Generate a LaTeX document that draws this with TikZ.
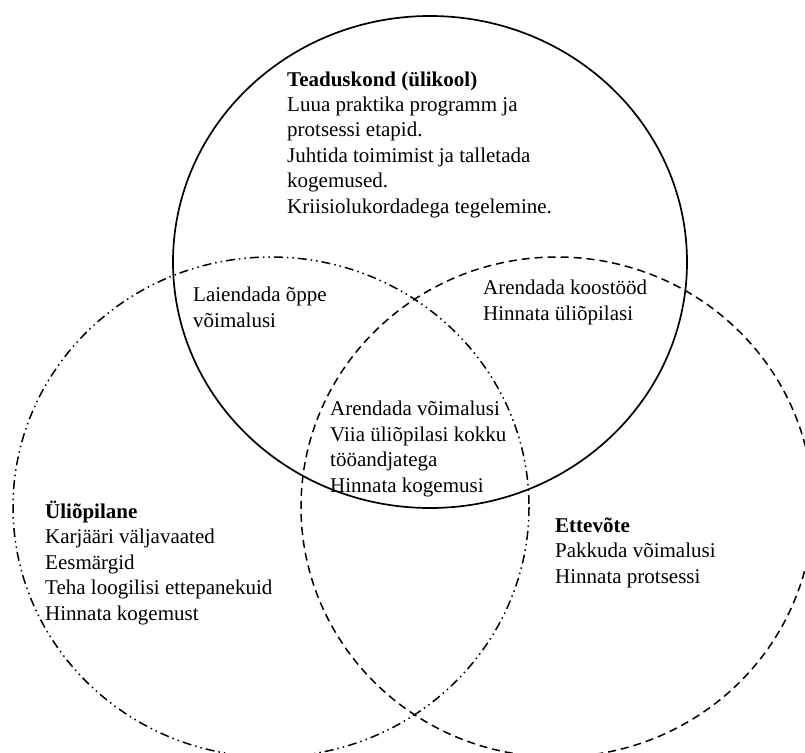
\documentclass[tikz,border=0pt]{standalone}
\usepackage{fontspec}
\setmainfont{Liberation Serif}
\tikzset{
  lbl/.style={anchor=base west, align=left, inner sep=0pt, font=\fontsize{21}{25.4}\selectfont},
  solidring/.style={line width=1.7pt},
  dashring/.style={line width=1.5pt, dash pattern=on 8pt off 5pt},
  dotring/.style={line width=1.5pt, dash pattern=on 9pt off 4pt on 1.5pt off 4pt on 1.5pt off 4pt},
}
\begin{document}
\begin{tikzpicture}[x=1pt,y=-1pt]
\useasboundingbox (0,0) rectangle (805,752);
\fill[white] (0,0) rectangle (805,752);
\clip (0,0) rectangle (805,752);
% rings
\draw[solidring] (430,262) ellipse [x radius=257, y radius=246];
\draw[dotring] (271,507) ellipse [x radius=258, y radius=250];
\draw[dashring] (557,507) ellipse [x radius=256, y radius=250];
% texts (anchored at the baseline of the last line)
\node[lbl] (uni) at (287,213) {\textbf{Teaduskond (ülikool)}\\Luua praktika programm ja\\protsessi etapid.\\Juhtida toimimist ja talletada\\kogemused.\\Kriisiolukordadega tegelemine.};
\node[lbl] (us) at (193,327) {Laiendada õppe\\võimalusi};
\node[lbl] (ue) at (483,320) {Arendada koostööd\\Hinnata üliõpilasi};
\node[lbl] (all) at (330,492) {Arendada võimalusi\\Viia üliõpilasi kokku\\tööandjatega\\Hinnata kogemusi};
\node[lbl] (stu) at (45,620) {\textbf{Üliõpilane}\\Karjääri väljavaated\\Eesmärgid\\Teha loogilisi ettepanekuid\\Hinnata kogemust};
\node[lbl] (ent) at (555,583) {\textbf{Ettevõte}\\Pakkuda võimalusi\\Hinnata protsessi};
\end{tikzpicture}
\end{document}
